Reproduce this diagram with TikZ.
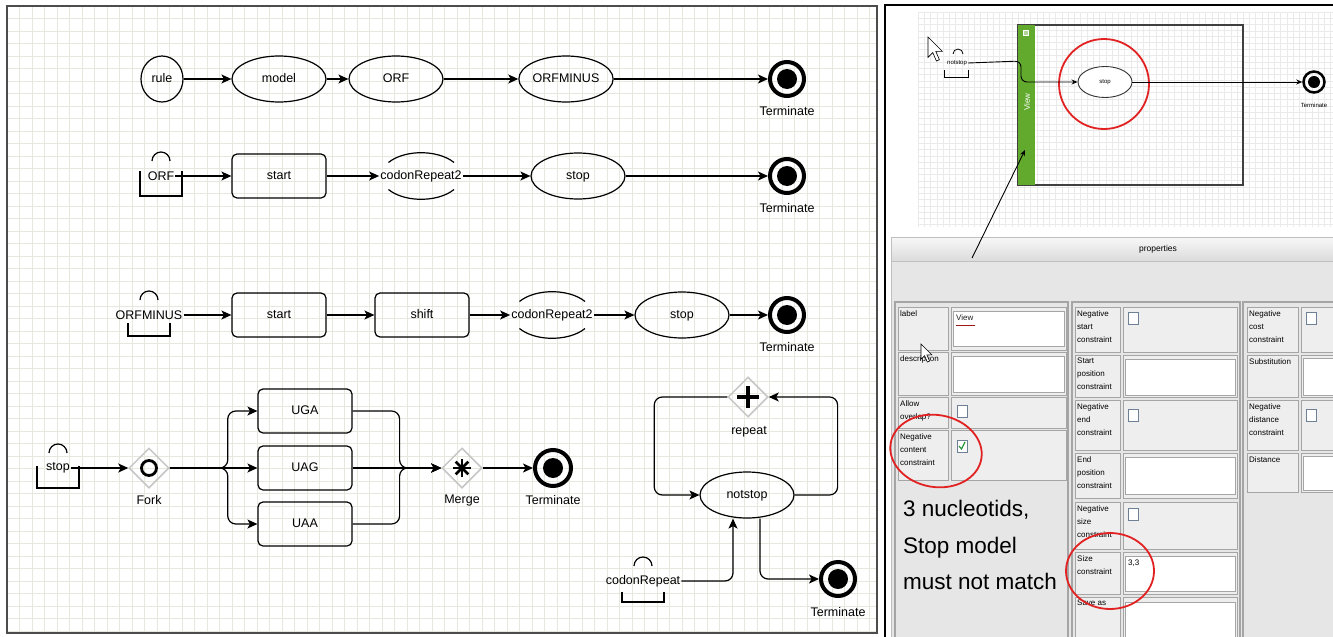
\documentclass[tikz,border=0pt]{standalone}
\usepackage{fontspec}
\setmainfont{Liberation Sans}
\usetikzlibrary{shapes.geometric,arrows.meta,positioning}

\definecolor{gridline}{RGB}{231,232,221}
\definecolor{finegrid}{RGB}{234,234,234}
\definecolor{viewgreen}{RGB}{98,170,46}
\definecolor{panelbg}{RGB}{230,230,230}
\definecolor{cellbg}{RGB}{238,238,238}
\definecolor{cellline}{RGB}{165,165,165}
\definecolor{markred}{RGB}{226,34,34}
\definecolor{checkgreen}{RGB}{40,150,60}
\definecolor{checkline}{RGB}{110,128,150}

\newcommand{\bagevent}[6]{%
  \node[lab, inner sep=1pt] (#1) at (#2,#3) {#4};
  \draw[line width=1.2pt] (#2-9,#3-15) arc (180:360:9);
  \draw[line width=1.2pt] (#2-21,#3+#5) -- (#2-21,#3+#6) -- (#2+21,#3+#6) -- (#2+21,#3+#5);
}
\newcommand{\halfev}[4]{%
  \node[lab, inner sep=1pt] (#1) at (#2,#3) {#4};
  \draw[line width=1.2pt] (#2+33,#3-13.5) arc[start angle=-35, end angle=-145, x radius=40, y radius=23];
  \draw[line width=1.2pt] (#2+33,#3+13.5) arc[start angle=35, end angle=145, x radius=40, y radius=23];
}
\newcommand{\mousepointer}[3]{%
  \draw[fill=white, line width=0.6pt, shift={(#1,#2)}, scale=#3] (0,0) -- (0,17) -- (4,13) -- (7,20) -- (9.5,19) -- (6.5,12) -- (12,12) -- cycle;
}

\begin{document}
\begin{tikzpicture}[x=1pt, y=-1pt,
  lab/.style={font=\fontsize{12.5}{14}\selectfont},
  smalltxt/.style={font=\fontsize{6}{7}\selectfont},
  prop/.style={font=\fontsize{8}{13}\selectfont, align=left, inner sep=1pt, anchor=north west},
  conn/.style={line width=1.2pt, -{Stealth[length=10pt, width=9pt, inset=2.5pt]}},
  thin conn/.style={line width=0.9pt, -{Stealth[length=6pt, width=5pt]}},
  ev/.style={ellipse, draw, line width=1.2pt, minimum width=#1, minimum height=46, inner sep=0pt, text height=9pt, text depth=2.5pt, lab},
  ev/.default=94,
  task/.style={rectangle, rounded corners=5pt, draw, line width=1.2pt, minimum width=94, minimum height=44, text height=9pt, text depth=2.5pt, lab},
  term/.style={circle, draw, line width=4pt, minimum size=34, inner sep=0pt, path picture={\fill[black] (path picture bounding box.center) circle (10);}},
  sterm/.style={circle, draw, line width=2.5pt, minimum size=21, inner sep=0pt, path picture={\fill[black] (path picture bounding box.center) circle (6);}},
  gate/.style={diamond, draw=gray!45, line width=1.5pt, minimum size=40, inner sep=0pt},
  box/.style={draw=cellline, fill=cellbg, line width=0.8pt},
  input/.style={draw=cellline, fill=white, line width=0.8pt},
  chk/.style={draw=checkline, fill=white, line width=0.7pt},
]
\useasboundingbox (0,0) rectangle (1333,637);
\fill[white] (0,0) rectangle (1333,637);

% left panel
\foreach \gx in {7,19.5,...,877} \draw[gridline] (\gx,6) -- (\gx,633);
\foreach \gy in {6,18.5,...,633} \draw[gridline] (7,\gy) -- (877,\gy);
\draw[gray!60!black, line width=1.5pt] (7,6) rectangle (877,633);

\node[ev=42] (rule) at (162,79) {rule};
\node[ev] (model) at (279,79) {model};
\node[ev] (orf) at (396,79) {ORF};
\node[ev] (orfminus) at (566,79) {ORFMINUS};
\node[term] (term1) at (787,79) {};
\node[lab] (term1lab) at (787,111) {Terminate};

\bagevent{orfev}{161}{176}{ORF}{-5}{20}
\node[task] (start1) at (279,176) {start};
\halfev{crep1}{421}{176}{codonRepeat2}
\node[ev] (stop1) at (578,176) {stop};
\node[term] (term2) at (787,176) {};
\node[lab] (term2lab) at (787,208) {Terminate};

\bagevent{orfmev}{149}{315}{ORFMINUS}{8}{21}
\node[task] (start2) at (279,315) {start};
\node[task] (shift) at (422,315) {shift};
\halfev{crep2}{552}{315}{codonRepeat2}
\node[ev] (stop2) at (682,315) {stop};
\node[term] (term3) at (787,315) {};
\node[lab] (term3lab) at (787,347) {Terminate};

\bagevent{stopev}{58}{468}{stop}{-2}{20}
\node[gate, path picture={\draw[black, line width=2.8pt] (path picture bounding box.center) circle (7.5);}] (fork) at (149,468) {};
\node[lab] (forklab) at (149,500) {Fork};
\node[task] (uga) at (305,411) {UGA};
\node[task] (uag) at (305,468) {UAG};
\node[task] (uaa) at (305,524) {UAA};
\node[gate, path picture={\foreach \a in {0,45,90,135} \draw[black, line width=2.6pt] (path picture bounding box.center) ++(\a:9) -- ++(\a+180:18);}] (merge) at (462,468) {};
\node[lab] (mergelab) at (462,500) {Merge};
\node[term, minimum size=36] (term4) at (553,468) {};
\node[lab] (term4lab) at (553,500) {Terminate};

\node[gate, path picture={\draw[black, line width=3.5pt] (path picture bounding box.center) ++(-11,0) -- ++(22,0) (path picture bounding box.center) ++(0,-11) -- ++(0,22);}] (repeat) at (748,397) {};
\node[lab] (repeatlab) at (749,432) {repeat};
\node[ev] (notstop) at (747,495) {notstop};
\bagevent{codrev}{643}{581}{codonRepeat}{11}{21}
\node[term] (term5) at (838,579) {};
\node[lab] (term5lab) at (838,612) {Terminate};

\draw[conn] (rule) -- (model);
\draw[conn] (model) -- (orf);
\draw[conn] (orf) -- (orfminus);
\draw[conn] (orfminus) -- (term1);
\draw[conn] (orfev) -- (start1);
\draw[conn] (start1) -- (crep1);
\draw[conn] (crep1) -- (stop1);
\draw[conn] (stop1) -- (term2);
\draw[conn] (orfmev) -- (start2);
\draw[conn] (start2) -- (shift);
\draw[conn] (shift) -- (crep2);
\draw[conn] (crep2) -- (stop2);
\draw[conn] (stop2) -- (term3);
\draw[conn] (stopev) -- (fork);
\draw[conn, rounded corners=8] (fork.east) -- ++(58,0) |- (uga);
\draw[conn] (fork) -- (uag);
\draw[conn, rounded corners=8] (fork.east) -- ++(58,0) |- (uaa);
\draw[conn, rounded corners=8] (uga.east) -- ++(47,0) |- (merge);
\draw[conn] (uag) -- (merge);
\draw[conn, rounded corners=8] (uaa.east) -- ++(47,0) |- (merge);
\draw[conn] (merge) -- (term4);
\draw[conn, rounded corners=8] (notstop.east) -- ++(43,0) |- (repeat.east);
\draw[conn, rounded corners=8] (repeat.west) -- ++(-73,0) |- (notstop.west);
\draw[conn, rounded corners=8] (codrev.east) -| ([xshift=-14pt]notstop.south);
\draw[conn, rounded corners=8] ([xshift=13pt]notstop.south) |- (term5);

% right panel, editor view
\foreach \gx in {918,924.25,...,1333} \draw[finegrid] (\gx,12) -- (\gx,227);
\foreach \gy in {12,18.25,...,227} \draw[finegrid] (918,\gy) -- (1333,\gy);
\draw[line width=1.6pt] (885,637) -- (885,5) -- (1333,5);

\node[draw=gray!50!black, fill=white, line width=1.2pt, minimum width=225, minimum height=160, inner sep=0pt] (viewbox) at (1130.5,105) {};
\foreach \gx in {1037,1043.25,...,1242} \draw[finegrid] (\gx,26) -- (\gx,184);
\foreach \gy in {30,36.25,...,184} \draw[finegrid] (1036,\gy) -- (1242,\gy);
\node[fill=viewgreen, minimum width=17, minimum height=160, inner sep=0pt, anchor=north west] (viewbar) at (viewbox.north west) {};
\node[rotate=90, text=white, font=\fontsize{8}{9}\selectfont] (viewlab) at (1027,102) {View};
\node[draw=white, fill=viewgreen!50!white, minimum size=5, inner sep=0pt] (viewicon) at (1026,33) {};

\node[smalltxt, inner sep=1pt] (nsev) at (957,63) {notstop};
\draw[line width=0.8pt] (953,54) arc (180:360:5);
\draw[line width=0.8pt] (944,70) -- (944,77) -- (968,77) -- (968,70);
\mousepointer{928}{37}{1.2}
\node[ellipse, draw=gray!40!black, fill=white, line width=0.9pt, minimum width=54, minimum height=31, inner sep=0pt, smalltxt] (stopv) at (1105,82) {stop};
\node[circle, draw=markred, line width=1.8pt, minimum size=90, inner sep=0pt] (mark1) at (1104,84) {};
\node[sterm] (term6) at (1314,82) {};
\node[smalltxt] (term6lab) at (1314,105) {Terminate};
\draw[thin conn, rounded corners=6] (nsev.east) -- (1021,61) |- (stopv);
\draw[thin conn] (stopv) -- (term6);

% properties panel
\fill[panelbg] (891,237) rectangle (1333,637);
\draw[gray!50] (891,637) -- (891,237);
\node[top color=gray!6, bottom color=gray!28, draw=gray!50, minimum width=442, minimum height=24, inner sep=0pt, anchor=north west] (prophead) at (891,237) {};
\node[font=\fontsize{8.5}{10}\selectfont] (proptitle) at (1158,249) {properties};

\draw[cellline, line width=1.2pt] (895,302) rectangle (1068,640);
\draw[cellline, line width=1.2pt] (1072,302) rectangle (1240,640);
\draw[cellline, line width=1.2pt] (1243,302) rectangle (1340,640);

\foreach \ya/\yb/\txt in {307/350/label, 352/395/description, 397/428/{Allow\\overlap?}, 430/480/{Negative\\content\\constraint}} {
  \draw[box] (898,\ya) rectangle (948,\yb);
  \draw[box] (951,\ya) rectangle (1066,\yb);
  \node[prop] (lc\ya) at (899,\ya+2) {\txt};
}
\foreach \ya/\yb/\txt in {307/352/{Negative\\start\\constraint}, 355/397/{Start\\position\\constraint}, 400/450/{Negative\\end\\constraint}, 453/498/{End\\position\\constraint}, 502/549/{Negative\\size\\constraint}, 552/594/{Size\\constraint}, 597/640/{Save as}} {
  \draw[box] (1075,\ya) rectangle (1120,\yb);
  \draw[box] (1123,\ya) rectangle (1237,\yb);
  \node[prop] (mc\ya) at (1076,\ya+2) {\txt};
}
\foreach \ya/\yb/\txt in {307/352/{Negative\\cost\\constraint}, 355/397/Substitution, 400/450/{Negative\\distance\\constraint}, 453/492/Distance} {
  \draw[box] (1247,\ya) rectangle (1298,\yb);
  \draw[box] (1301,\ya) rectangle (1340,\yb);
  \node[prop] (rc\ya) at (1248,\ya+2) {\txt};
}

\draw[input] (953,311) rectangle (1064,346);
\draw[input] (953,356) rectangle (1064,392);
\draw[input] (1125,359) rectangle (1235,395);
\draw[input] (1125,457) rectangle (1235,494);
\draw[input] (1125,556) rectangle (1235,591);
\draw[input] (1125,602) rectangle (1235,640);
\draw[input] (1303,358) rectangle (1340,395);
\draw[input] (1303,456) rectangle (1340,490);
\node[prop, text=gray!25!black] (labval) at (955,313) {View};
\draw[markred!70!black, line width=0.6pt] (956,325) -- (975,325);
\node[prop] (sizeval) at (1127,559) {3,3};

\foreach \cx/\cy in {957/405, 1128/312, 1128/409, 1128/508, 1306/312, 1306/409}
  \draw[chk] (\cx,\cy) rectangle ++(10,12);
\draw[chk] (957,440) rectangle ++(10,12);
\draw[checkgreen, line width=1.2pt] (959,446) -- (961.5,449) -- (965,442);

\mousepointer{921}{344}{0.9}

\node[font=\fontsize{22.5}{36.5}\selectfont, align=left, anchor=north west, inner sep=0pt] (note) at (903,500) {3 nucleotids,\\Stop model\\must not match};

\draw[markred, line width=1.8pt, rotate around={-10:(936,451)}] (936,451) ellipse (46 and 36);
\draw[markred, line width=1.8pt] (1110,571) ellipse (44 and 38);

\coordinate (ptrfoot) at (972,258);
\coordinate (viewpt) at (1025,150);
\draw[thin conn] (ptrfoot) -- (viewpt);
\end{tikzpicture}
\end{document}
